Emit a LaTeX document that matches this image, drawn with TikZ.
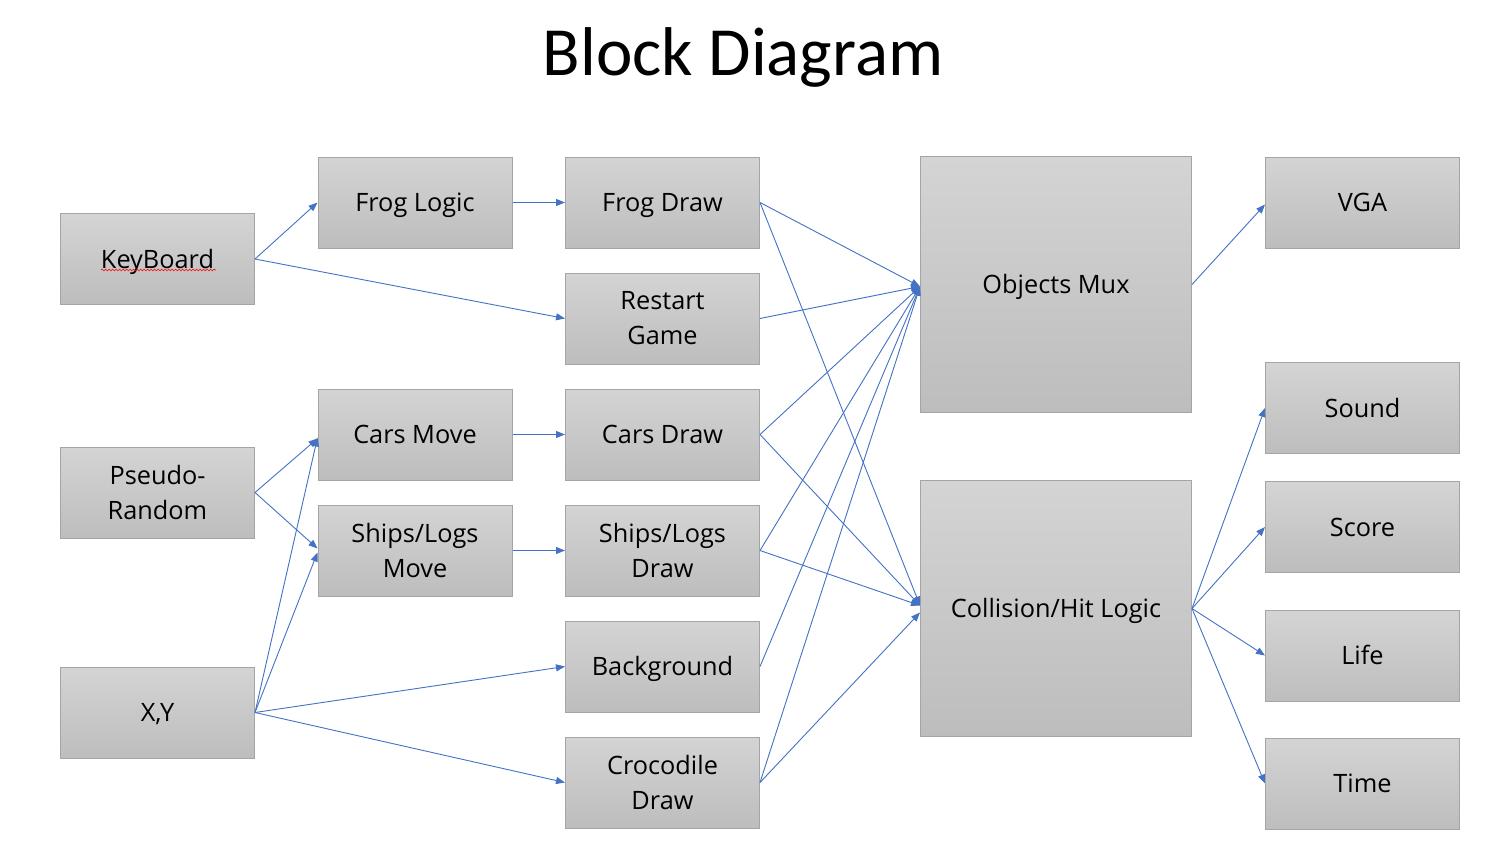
\documentclass[tikz,border=0pt]{standalone}
\usepackage{fontspec}
\setmainfont{Open Sans}
\newfontfamily\titlefont{Carlito}
\usetikzlibrary{arrows.meta,calc,decorations.pathmorphing}
\definecolor{lnblue}{HTML}{4472C4}
\definecolor{bxtop}{HTML}{D4D4D4}
\definecolor{bxbot}{HTML}{BDBDBD}
\definecolor{bxline}{HTML}{A5A5A5}
\begin{document}
\begin{tikzpicture}[x=1pt,y=-1pt,
  box/.style={draw=bxline, line width=1pt, top color=bxtop, bottom color=bxbot,
    minimum width=194pt, minimum height=91pt, inner sep=0pt, align=center,
    font=\fontsize{25.3}{35}\selectfont},
  onebox/.style={box, text height=18pt, text depth=0pt},
  bigbox/.style={onebox, minimum width=271pt, minimum height=256pt},
  conn/.style={draw=lnblue, line width=0.9pt, -{Triangle[length=9pt,width=7pt]}}]
\useasboundingbox (0,0) rectangle (1500,844);
\fill[white] (0,0) rectangle (1500,844);

\node[anchor=base, font=\titlefont\fontsize{69}{72}\selectfont] (title) at (743,75) {Block Diagram};

\node[onebox] (keyb) at (157.5,259) {KeyBoard};
\node[box] (pseudo) at (157.5,492.5) {Pseudo-\\Random};
\node[onebox] (xy) at (157.5,712.5) {X,Y};

\node[onebox] (frogl) at (415,202.5) {Frog Logic};
\node[onebox] (carsm) at (415,434.5) {Cars Move};
\node[box] (shipsm) at (415,550.5) {Ships/Logs\\Move};

\node[onebox] (frogd) at (662.5,202.5) {Frog Draw};
\node[box] (restart) at (662.5,318.5) {Restart\\Game};
\node[onebox] (carsd) at (662.5,434.5) {Cars Draw};
\node[box] (shipsd) at (662.5,550.5) {Ships/Logs\\Draw};
\node[onebox] (bg) at (662.5,666.5) {Background};
\node[box] (croc) at (662.5,782.5) {Crocodile\\Draw};

\node[bigbox] (mux) at (1056,284.5) {Objects Mux};
\node[bigbox] (coll) at (1056,608.5) {Collision/Hit Logic};

\node[onebox] (vga) at (1362.5,202.5) {VGA};
\node[onebox] (sound) at (1362.5,408) {Sound};
\node[onebox] (score) at (1362.5,527) {Score};
\node[onebox] (life) at (1362.5,655.5) {Life};
\node[onebox] (time) at (1362.5,783.5) {Time};

% spell-check underline
\coordinate (sqa) at (101,270);
\coordinate (sqb) at (216,270);
\draw[red, line width=0.6pt, decorate, decoration={snake, amplitude=0.9pt, segment length=3.5pt}] (sqa) -- (sqb);

% connectors
\draw[conn] (keyb.east) -- (frogl.west);
\draw[conn] (keyb.east) -- (restart.west);
\draw[conn] (frogl.east) -- (frogd.west);
\draw[conn] (carsm.east) -- (carsd.west);
\draw[conn] (shipsm.east) -- (shipsd.west);

\draw[conn] (pseudo.east) -- ($(carsm.west)+(0,4)$);
\draw[conn] (pseudo.east) -- ($(shipsm.west)+(0,-2)$);
\draw[conn] (xy.east) -- ($(carsm.west)+(0,3)$);
\draw[conn] (xy.east) -- ($(shipsm.west)+(0,2)$);
\draw[conn] (xy.east) -- (bg.west);
\draw[conn] (xy.east) -- (croc.west);

\draw[conn] (frogd.east) -- ($(mux.west)+(0,2)$);
\draw[conn] (restart.east) -- ($(mux.west)+(0,2)$);
\draw[conn] (carsd.east) -- ($(mux.west)+(0,2)$);
\draw[conn] (shipsd.east) -- ($(mux.west)+(0,2)$);
\draw[conn] (bg.east) -- ($(mux.west)+(0,2)$);
\draw[conn] (croc.east) -- ($(mux.west)+(0,2)$);

\draw[conn] (frogd.east) -- ($(coll.west)+(0,-3)$);
\draw[conn] (carsd.east) -- ($(coll.west)+(0,-3)$);
\draw[conn] (shipsd.east) -- ($(coll.west)+(0,-3)$);
\draw[conn] (croc.east) -- ($(coll.west)+(0,4)$);

\draw[conn] (mux.east) -- ($(vga.west)+(0,2)$);
\draw[conn] (coll.east) -- (sound.west);
\draw[conn] (coll.east) -- (score.west);
\draw[conn] (coll.east) -- (life.west);
\draw[conn] (coll.east) -- (time.west);
\end{tikzpicture}
\end{document}
